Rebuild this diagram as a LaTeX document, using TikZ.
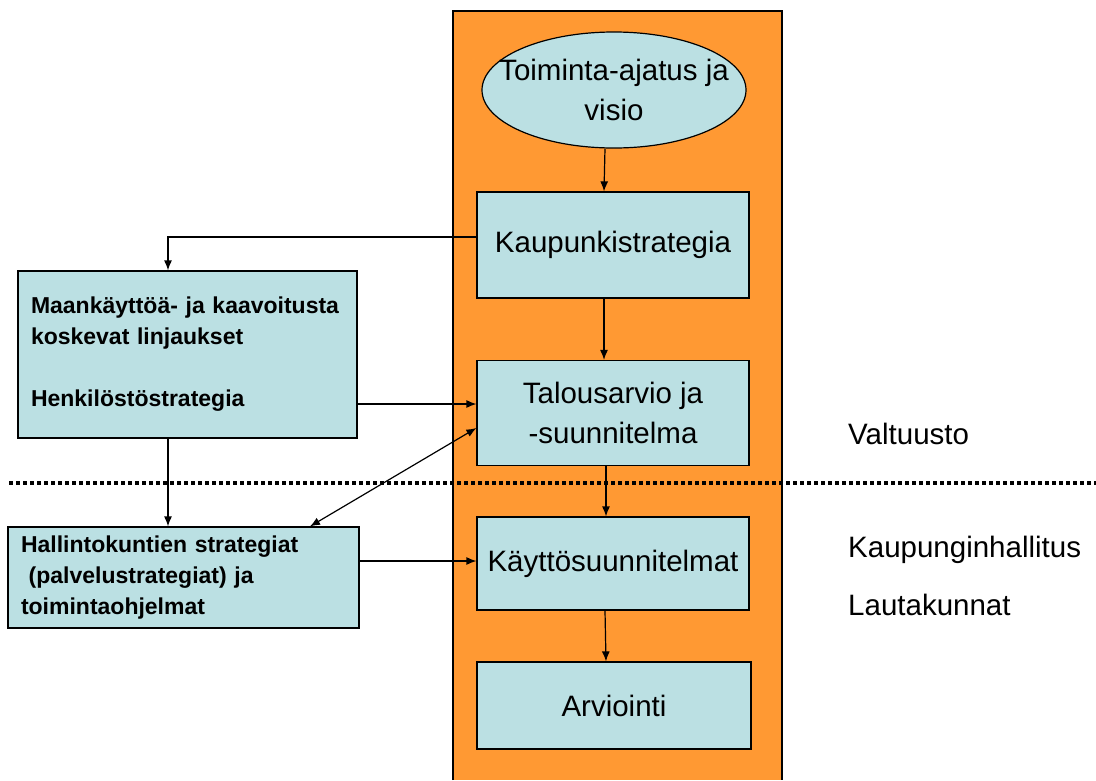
\documentclass[tikz,border=0pt]{standalone}
\usepackage{fontspec}
\setmainfont{Liberation Sans}
\usepackage{tikz}
\usetikzlibrary{shapes.geometric, arrows.meta}
\definecolor{panelorange}{RGB}{255,153,51}
\definecolor{boxblue}{RGB}{187,224,227}
\tikzstyle{box} = [rectangle, draw=black, line width=1.2pt, fill=boxblue, inner sep=0pt, align=center, font=\fontsize{29.5}{40}\selectfont]
\tikzstyle{oval} = [ellipse, draw=black, line width=1.2pt, fill=boxblue, inner sep=0pt, align=center, font=\fontsize{29.5}{40}\selectfont]
\tikzstyle{sidebox} = [rectangle, draw=black, line width=1.2pt, fill=boxblue, inner xsep=13pt, inner ysep=0pt, align=left, font=\bfseries\fontsize{23}{31}\selectfont]
\tikzstyle{level} = [anchor=base west, inner sep=0pt, font=\fontsize{29.5}{36}\selectfont]
\tikzstyle{arrow} = [-{Latex[length=10pt,width=8pt]}, line width=1.2pt]

\begin{document}
\begin{tikzpicture}[x=1pt,y=-1pt]
\useasboundingbox (0,0) rectangle (1096,780);
\fill[panelorange] (453,11) rectangle (782,780);
\draw[line width=1.2pt] (453,780) |- (782,11) -- (782,780);
\draw[line width=3.5pt, dash pattern=on 4pt off 3pt] (9,483) -- (1096,483);

% text lines wider than the ellipse, as in the slide
\node[oval, minimum width=264pt, minimum height=116pt] (vision) at (614,90) {\makebox[0pt]{Toiminta-ajatus ja}\\\makebox[0pt]{visio}};
\node[box, minimum width=272pt, minimum height=106pt] (strat) at (613,245) {Kaupunkistrategia};
\node[box, minimum width=272pt, minimum height=105pt] (budget) at (613,413) {Talousarvio ja\\-suunnitelma};
\node[box, minimum width=272pt, minimum height=93pt] (plans) at (613,563.5) {Käyttösuunnitelmat};
\node[box, minimum width=274pt, minimum height=87pt] (eval) at (614,705.5) {Arviointi};

\node[sidebox, text width=313pt, minimum height=167pt] (land) at (187.5,354.5) {Maankäyttöä- ja kaavoitusta\\koskevat linjaukset\\[31pt]Henkilöstöstrategia};
\node[sidebox, text width=325pt, minimum height=101pt] (units) at (183.5,577.5) {Hallintokuntien strategiat\\\ (palvelustrategiat) ja\\toimintaohjelmat};

\node[level] (council) at (848,444) {Valtuusto};
\node[level] (board) at (848,557) {Kaupunginhallitus};
\node[level] (committees) at (848,615) {Lautakunnat};

\draw[arrow] ([xshift=-9pt]vision.south) -- ([xshift=-9pt]strat.north);
\draw[arrow] ([xshift=-9pt]strat.south) -- ([xshift=-9pt]budget.north);
\draw[arrow] ([xshift=-7pt]budget.south) -- ([xshift=-7pt]plans.north);
\draw[arrow] ([xshift=-8pt]plans.south) -- ([xshift=-8pt]eval.north);
\draw[arrow] ([yshift=8pt]strat.west) -| ([xshift=-19.5pt]land.north);
\draw[arrow] ([yshift=-49.5pt]land.east) -- ([yshift=9pt]budget.west);
\draw[arrow] ([xshift=-19.5pt]land.south) -- ([xshift=-15.5pt]units.north);
\draw[arrow, {Latex[length=10pt,width=8pt]}-{Latex[length=10pt,width=8pt]}] ([xshift=126.5pt]units.north) -- ([yshift=-15pt]budget.west);
\draw[arrow] ([yshift=16.5pt]units.east) -- ([yshift=2.5pt]plans.west);
\end{tikzpicture}
\end{document}
